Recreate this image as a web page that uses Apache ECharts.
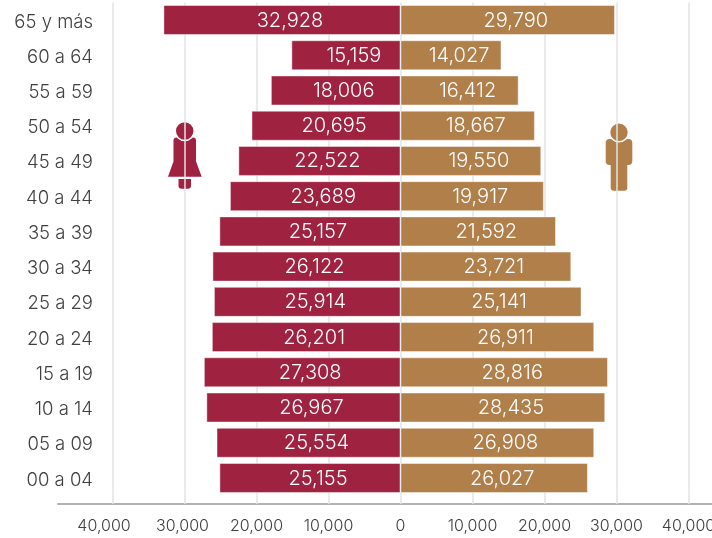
<!DOCTYPE html>
<html><head><meta charset="utf-8">
<style>html,body{margin:0;padding:0;background:#fff}#c{width:712px;height:538px}</style>
<script src="https://cdn.jsdelivr.net/npm/echarts@6/dist/echarts.min.js"></script>
</head><body><div id="c"></div>
<script>
const categories = ['65 y más','60 a 64','55 a 59','50 a 54','45 a 49','40 a 44','35 a 39','30 a 34','25 a 29','20 a 24','15 a 19','10 a 14','05 a 09','00 a 04'];
const mujeres = [32928,15159,18006,20695,22522,23689,25157,26122,25914,26201,27308,26967,25554,25155];
const hombres = [29790,14027,16412,18667,19550,19917,21592,23721,25141,26911,28816,28435,26908,26027];
const tickValues = [-40000,-30000,-20000,-10000,0,10000,20000,30000,40000];
const RED = '#9f2241', GOLD = '#b07f4a';
const FONT = 'Inter';
const fmt = v => Math.abs(v).toLocaleString('en-US');
const labelStyle = {show:true, position:'inside', offset:[8,0.5], color:'#fff', fontFamily:FONT, fontWeight:300, fontSize:20,
  formatter:p=>fmt(p.value)};
const tickLabel = v => v===-40000 ? '{a|'+fmt(v)+'}' : v===-30000 ? '{b|'+fmt(v)+'}' : fmt(v);
const tickFont = {color:'#404040', fontFamily:FONT, fontWeight:300, fontSize:16};
const catFont = {color:'#404040', fontFamily:FONT, fontWeight:300, fontSize:18.5};
const chart = echarts.init(document.getElementById('c'), null, {renderer:'canvas'});
chart.setOption({
  animation:false,
  grid:{left:58, right:0, top:2.4, bottom:42.4, containLabel:false, outerBoundsMode:'none'},
  xAxis:{type:'value', min:-47570, max:43264, offset:8.4,
    axisLine:{show:true, onZero:false, lineStyle:{color:'#b3b3b3', width:2}},
    axisTick:{show:true, inside:true, length:8.4, customValues:tickValues, lineStyle:{color:'#e3e3e3', width:1.5}},
    splitLine:{show:true, lineStyle:{color:'#e3e3e3', width:1.5}},
    axisLabel:Object.assign({customValues:tickValues, formatter:tickLabel, margin:14.5,
      rich:{a:Object.assign({padding:[0,17,0,0]},tickFont), b:Object.assign({padding:[0,4,0,0]},tickFont)}},tickFont)},
  yAxis:{type:'category', inverse:true, data:categories,
    axisLine:{show:false}, axisTick:{show:false}, splitLine:{show:false},
    axisLabel:Object.assign({margin:-35, align:'right', formatter:v=>'{c|'+v+'}',
      rich:{c:Object.assign({padding:[4,0,0,0]},catFont)}},catFont)},
  series:[
    {name:'Mujeres', type:'bar', stack:'t', barWidth:30, data:mujeres.map(v=>-v),
     itemStyle:{color:RED, borderColor:'rgba(255,255,255,0.45)', borderWidth:1}, label:labelStyle},
    {name:'Hombres', type:'bar', stack:'t', barWidth:30, data:hombres,
     itemStyle:{color:GOLD, borderColor:'rgba(255,255,255,0.45)', borderWidth:1}, label:labelStyle}
  ],
  graphic:[
    {type:'group', silent:true, children:[
      {type:'rect', shape:{x:173.5,y:137.5,width:22.5,height:25,r:3}, style:{fill:RED}},
      {type:'polygon', shape:{points:[[174,160],[195.5,160],[201.7,176.7],[168,176.7]]}, style:{fill:RED}},
      {type:'rect', shape:{x:178.5,y:179,width:12.5,height:9.7,r:[0,0,3,3]}, style:{fill:RED}},
      {type:'circle', shape:{cx:184.7,cy:131,r:9.5}, style:{fill:RED, stroke:'#fff', lineWidth:1.6}}
    ]},
    {type:'group', silent:true, children:[
      {type:'rect', shape:{x:605.7,y:139,width:26.6,height:26,r:4}, style:{fill:GOLD}},
      {type:'rect', shape:{x:610.7,y:160,width:16.6,height:30.7,r:[0,0,3,3]}, style:{fill:GOLD}},
      {type:'circle', shape:{cx:619,cy:132.3,r:9.5}, style:{fill:GOLD, stroke:'#fff', lineWidth:1.6}}
    ]}
  ]
});
</script></body></html>
